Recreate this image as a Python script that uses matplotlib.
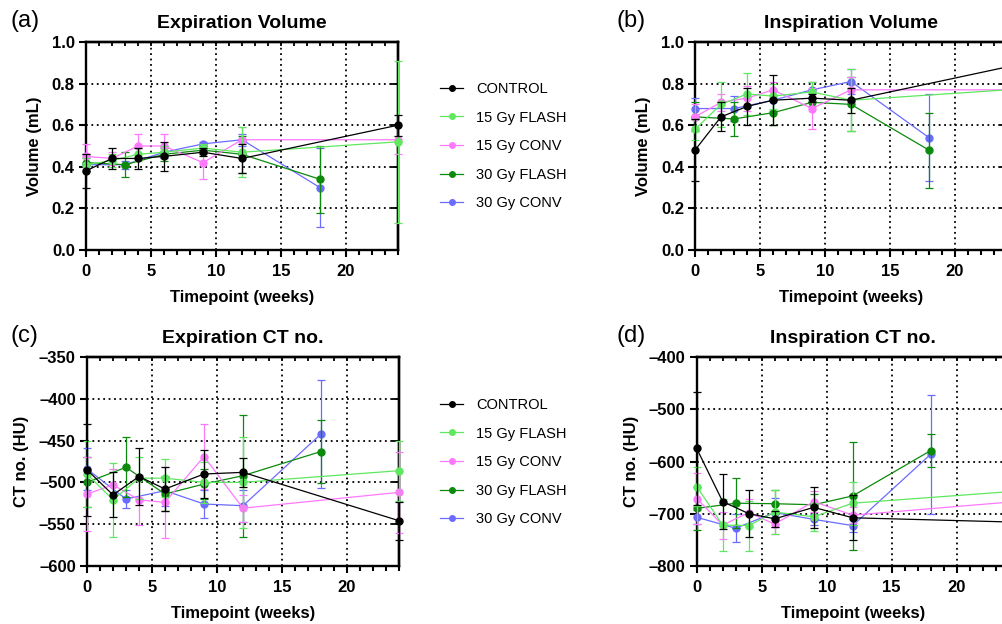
import matplotlib
matplotlib.use("Agg")
import matplotlib.pyplot as plt
from matplotlib.lines import Line2D
from matplotlib.ticker import MultipleLocator, FuncFormatter

plt.rcParams['font.family'] = ['Liberation Sans', 'DejaVu Sans']

# Timepoints (weeks): CONTROL / 15 Gy groups vs 30 Gy groups
weeks_main = [0, 2, 4, 6, 9, 12, 24]
weeks_30gy = [0, 3, 6, 9, 12, 18]

groups = ['CONTROL', '15 Gy FLASH', '15 Gy CONV', '30 Gy FLASH', '30 Gy CONV']
colors = ['#000000', '#5fe85f', '#ff78ff', '#0c8a0c', '#6b6bff']

# (a) Expiration volume (mL): mean and SD
exp_vol_control = [0.38, 0.44, 0.44, 0.45, 0.47, 0.44, 0.60]
exp_vol_control_sd = [0.08, 0.05, 0.05, 0.07, 0.02, 0.07, 0.05]
exp_vol_15f = [0.41, 0.43, 0.46, 0.47, 0.49, 0.47, 0.52]
exp_vol_15f_sd = [0.03, 0.03, 0.03, 0.03, 0.02, 0.12, 0.39]
exp_vol_15c = [0.45, 0.44, 0.50, 0.50, 0.42, 0.53, 0.53]
exp_vol_15c_sd = [0.06, 0.03, 0.06, 0.06, 0.08, 0.06, 0.07]
exp_vol_30f = [0.42, 0.41, 0.46, 0.48, 0.46, 0.34]
exp_vol_30f_sd = [0.04, 0.06, 0.03, 0.02, 0.09, 0.16]
exp_vol_30c = [0.41, 0.41, 0.47, 0.51, 0.53, 0.30]
exp_vol_30c_sd = [0.03, 0.02, 0.03, 0.01, 0.03, 0.19]

# (b) Inspiration volume (mL)
insp_vol_control = [0.48, 0.64, 0.69, 0.72, 0.73, 0.72, 0.88]
insp_vol_control_sd = [0.15, 0.07, 0.09, 0.12, 0.02, 0.06, 0.08]
insp_vol_15f = [0.58, 0.70, 0.75, 0.74, 0.76, 0.72, 0.77]
insp_vol_15f_sd = [0.05, 0.11, 0.10, 0.06, 0.05, 0.15, 0.10]
insp_vol_15c = [0.64, 0.71, 0.73, 0.77, 0.68, 0.77, 0.77]
insp_vol_15c_sd = [0.06, 0.04, 0.06, 0.04, 0.10, 0.06, 0.10]
insp_vol_30f = [0.64, 0.63, 0.66, 0.71, 0.70, 0.48]
insp_vol_30f_sd = [0.07, 0.08, 0.06, 0.02, 0.13, 0.18]
insp_vol_30c = [0.68, 0.68, 0.72, 0.77, 0.81, 0.54]
insp_vol_30c_sd = [0.05, 0.06, 0.05, 0.04, 0.06, 0.21]

# (c) Expiration CT number (HU)
exp_ct_control = [-485, -515, -493, -508, -490, -488, -546]
exp_ct_control_sd = [55, 27, 34, 26, 29, 17, 23]
exp_ct_15f = [-490, -521, -495, -495, -500, -500, -486]
exp_ct_15f_sd = [40, 44, 25, 23, 25, 55, 36]
exp_ct_15c = [-514, -503, -521, -524, -469, -531, -512]
exp_ct_15c_sd = [44, 19, 30, 43, 39, 16, 49]
exp_ct_30f = [-500, -482, -514, -502, -492, -463]
exp_ct_30f_sd = [30, 36, 20, 18, 73, 38]
exp_ct_30c = [-484, -520, -510, -526, -528, -442]
exp_ct_30c_sd = [25, 11, 18, 17, 19, 65]

# (d) Inspiration CT number (HU)
insp_ct_control = [-575, -677, -700, -710, -688, -708, -716]
insp_ct_control_sd = [109, 53, 45, 15, 40, 43, 20]
insp_ct_15f = [-648, -722, -723, -697, -706, -680, -658]
insp_ct_15f_sd = [38, 50, 48, 42, 27, 41, 30]
insp_ct_15c = [-671, -722, -698, -720, -677, -703, -678]
insp_ct_15c_sd = [49, 26, 27, 19, 20, 15, 30]
insp_ct_30f = [-690, -680, -681, -683, -666, -579]
insp_ct_30f_sd = [42, 48, 26, 20, 104, 31]
insp_ct_30c = [-707, -728, -698, -711, -723, -586]
insp_ct_30c_sd = [13, 27, 28, 11, 12, 114]


def draw_panel(ax, means, sds, ylim, ystep, ndec, title, ylabel):
    # draw in reverse so CONTROL sits on top
    for i in reversed(range(len(groups))):
        weeks = weeks_main if i < 3 else weeks_30gy
        ax.errorbar(weeks, means[i], yerr=sds[i], color=colors[i],
                    marker='o', markersize=5, linewidth=0.9,
                    elinewidth=0.9, capsize=3, capthick=0.9,
                    zorder=3 + (len(groups) - i), clip_on=False)

    ax.set_xlim(0, 24)
    ax.set_ylim(*ylim)
    ax.xaxis.set_major_locator(MultipleLocator(5))
    ax.xaxis.set_minor_locator(MultipleLocator(1))
    ax.yaxis.set_major_locator(MultipleLocator(ystep))
    ax.yaxis.set_major_formatter(
        FuncFormatter(lambda v, p: f'{v:.{ndec}f}'.replace('-', '\u2013')))

    ax.grid(True, which='major', color='black', linestyle=(0, (1, 2)),
            linewidth=1.3)
    ax.set_axisbelow(True)

    for side in ['left', 'bottom', 'top', 'right']:
        ax.spines[side].set_linewidth(1.7)
    ax.tick_params(which='major', direction='out', length=5, width=1.5,
                   labelsize=12, pad=3)
    ax.tick_params(axis='x', which='major', pad=5)
    ax.tick_params(which='minor', direction='out', length=3.5, width=1.5)
    for lab in ax.get_xticklabels() + ax.get_yticklabels():
        lab.set_fontweight('bold')

    # inward ticks on top and right frame
    top = ax.secondary_xaxis('top')
    top.xaxis.set_major_locator(MultipleLocator(1))
    top.tick_params(direction='in', length=3, width=1.3, labeltop=False)
    top.spines['top'].set_linewidth(1.7)
    right = ax.secondary_yaxis('right')
    right.yaxis.set_major_locator(MultipleLocator(ystep))
    right.tick_params(direction='in', length=5, width=1.3, labelright=False)
    right.spines['right'].set_linewidth(1.7)

    ax.set_title(title, fontsize=14, fontweight='bold', pad=10)
    ax.set_xlabel('Timepoint (weeks)', fontsize=12, fontweight='bold', labelpad=8)
    ax.set_ylabel(ylabel, fontsize=12, fontweight='bold', labelpad=7)


fig = plt.figure(figsize=(10.02, 6.24), dpi=100)

ax_a = fig.add_axes([0.0858, 0.5994, 0.3114, 0.3333])
ax_b = fig.add_axes([0.6936, 0.5994, 0.3114, 0.3333])
ax_c = fig.add_axes([0.0868, 0.0934, 0.3114, 0.334])
ax_d = fig.add_axes([0.6953, 0.0934, 0.3114, 0.334])

draw_panel(ax_a,
           [exp_vol_control, exp_vol_15f, exp_vol_15c, exp_vol_30f, exp_vol_30c],
           [exp_vol_control_sd, exp_vol_15f_sd, exp_vol_15c_sd, exp_vol_30f_sd, exp_vol_30c_sd],
           (0, 1.0), 0.2, 1, 'Expiration Volume', 'Volume (mL)')
draw_panel(ax_b,
           [insp_vol_control, insp_vol_15f, insp_vol_15c, insp_vol_30f, insp_vol_30c],
           [insp_vol_control_sd, insp_vol_15f_sd, insp_vol_15c_sd, insp_vol_30f_sd, insp_vol_30c_sd],
           (0, 1.0), 0.2, 1, 'Inspiration Volume', 'Volume (mL)')
draw_panel(ax_c,
           [exp_ct_control, exp_ct_15f, exp_ct_15c, exp_ct_30f, exp_ct_30c],
           [exp_ct_control_sd, exp_ct_15f_sd, exp_ct_15c_sd, exp_ct_30f_sd, exp_ct_30c_sd],
           (-600, -350), 50, 0, 'Expiration CT no.', 'CT no. (HU)')
draw_panel(ax_d,
           [insp_ct_control, insp_ct_15f, insp_ct_15c, insp_ct_30f, insp_ct_30c],
           [insp_ct_control_sd, insp_ct_15f_sd, insp_ct_15c_sd, insp_ct_30f_sd, insp_ct_30c_sd],
           (-800, -400), 100, 0, 'Inspiration CT no.', 'CT no. (HU)')

# panel letters
for label, x, y in [('(a)', 11, 21), ('(b)', 616, 21), ('(c)', 11, 336), ('(d)', 616, 336)]:
    fig.text(x / 1002, 1 - y / 624, label, fontsize=17, ha='left', va='center')

# legends (line + marker only)
handles = [Line2D([], [], color=c, marker='o', markersize=4, linewidth=0.9)
           for c in colors]
for ytop in [82, 398]:
    fig.legend(handles, groups, loc='upper left',
               bbox_to_anchor=(440 / 1002, 1 - ytop / 624),
               frameon=False, fontsize=10.5, handlelength=1.6,
               handletextpad=0.9, labelspacing=1.0,
               borderpad=0, borderaxespad=0)

fig.savefig('out.png', dpi=100)
plt.close(fig)
